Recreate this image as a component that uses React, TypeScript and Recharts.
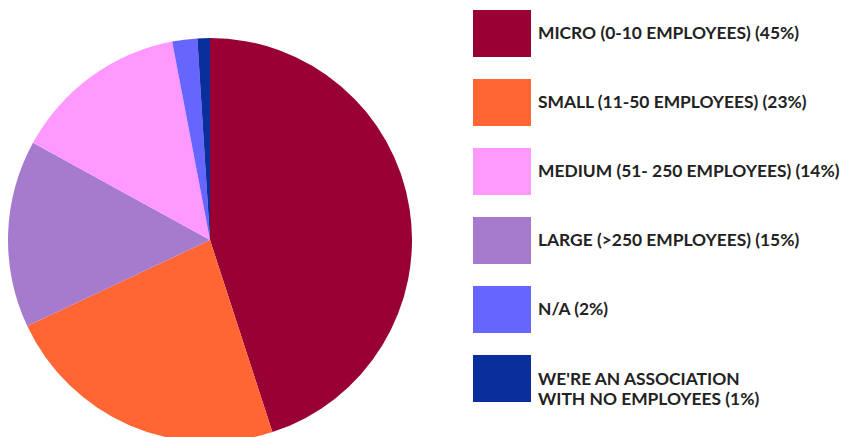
import { PieChart, Pie, Cell, Legend } from "recharts";

// pie order (clockwise from 12 o'clock)
const sliceNames = [
  "MICRO (0-10 EMPLOYEES) (45%)",
  "SMALL (11-50 EMPLOYEES) (23%)",
  "LARGE (>250 EMPLOYEES) (15%)",
  "MEDIUM (51- 250 EMPLOYEES) (14%)",
  "N/A (2%)",
  "WE'RE AN ASSOCIATION WITH NO EMPLOYEES (1%)",
];
const sliceValues = [45, 23, 15, 14, 2, 1];
const sliceColors = ["#990033", "#ff6633", "#a67acc", "#ff99ff", "#6666ff", "#0a2e9c"];

// legend order as printed
const legendOrder = [0, 1, 3, 2, 4, 5];
const legendLines: string[][] = [
  ["MICRO (0-10 EMPLOYEES) (45%)"],
  ["SMALL (11-50 EMPLOYEES) (23%)"],
  ["LARGE (>250 EMPLOYEES) (15%)"],
  ["MEDIUM (51- 250 EMPLOYEES) (14%)"],
  ["N/A (2%)"],
  ["WE'RE AN ASSOCIATION", "WITH NO EMPLOYEES (1%)"],
];

const data = sliceNames.map((name, i) => ({ name, value: sliceValues[i] }));

function LegendBlock() {
  return (
    <div style={{ fontFamily: "Lato, sans-serif", fontWeight: 700, fontSize: 17.4, color: "#222" }}>
      {legendOrder.map((idx, row) => (
        <div key={idx} style={{ position: "absolute", left: 0, top: row * 69, height: 47, width: 379 }}>
          <div style={{ position: "absolute", left: 0, top: 0, width: 58, height: 47, background: sliceColors[idx] }} />
          <div style={{ position: "absolute", left: 65, top: legendLines[idx].length > 1 ? 14 : 13, lineHeight: "20px", whiteSpace: "nowrap" }}>
            {legendLines[idx].map((l) => (
              <div key={l}>{l}</div>
            ))}
          </div>
        </div>
      ))}
    </div>
  );
}

export default function App() {
  return (
    <div style={{ position: "absolute", left: 0, top: 0, width: 852, height: 437, background: "#fff", overflow: "hidden" }}>
      <PieChart width={852} height={437} margin={{ top: 0, right: 0, bottom: 0, left: 0 }}>
        <Pie
          data={data}
          dataKey="value"
          nameKey="name"
          cx={210}
          cy={240}
          outerRadius={202}
          startAngle={90}
          endAngle={-270}
          stroke="none"
          isAnimationActive={false}
        >
          {data.map((d, i) => (
            <Cell key={d.name} fill={sliceColors[i]} />
          ))}
        </Pie>
        <Legend
          content={() => <LegendBlock />}
          wrapperStyle={{ position: "absolute", left: 473, top: 10, width: 379, height: 400 }}
        />
      </PieChart>
    </div>
  );
}
